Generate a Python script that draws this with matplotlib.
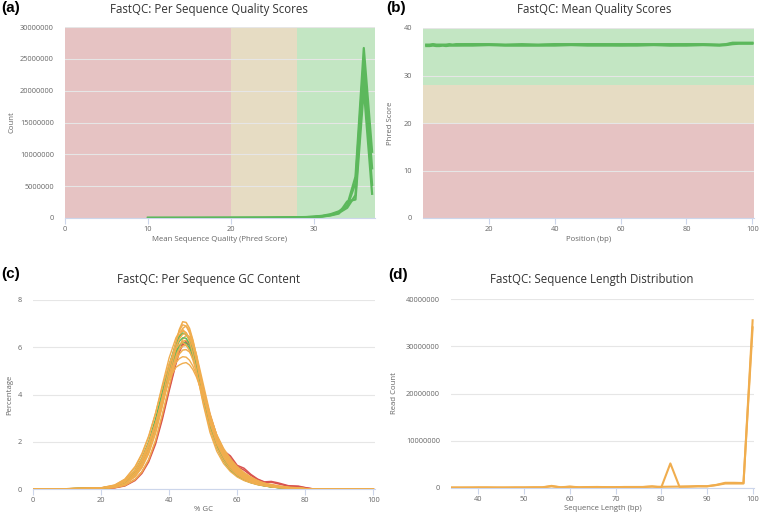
import numpy as np
import matplotlib
matplotlib.use("Agg")
import matplotlib.pyplot as plt

plt.rcParams['font.family'] = ['Open Sans', 'DejaVu Sans']

PASS = '#5cb85c'
WARN = '#f0ad4e'
FAIL = '#d9534f'

# (a) per sequence quality scores, counts in millions
qual_x = [10, 15, 20, 24, 27, 29, 30, 31, 32, 33, 34, 35, 36, 37]
qual_counts = [
    [0.01, 0.02, 0.03, 0.05, 0.09, 0.15, 0.22, 0.35, 0.60, 1.05, 2.0, 6.5, 26.7, 10.4],
    [0.01, 0.02, 0.03, 0.04, 0.08, 0.13, 0.19, 0.30, 0.50, 0.90, 1.8, 5.5, 24.8, 7.8],
    [0.01, 0.01, 0.02, 0.04, 0.07, 0.11, 0.16, 0.26, 0.45, 0.80, 1.6, 3.6, 22.5, 5.2],
    [0.01, 0.01, 0.02, 0.03, 0.06, 0.10, 0.14, 0.22, 0.40, 0.70, 2.6, 2.9, 20.3, 3.8],
]

# (b) mean quality per position
pos_x = [1, 2, 3, 4, 5, 6, 7, 8, 9, 10, 15, 20, 25, 30, 35, 40, 45, 50, 55, 60,
         65, 70, 75, 80, 85, 90, 92, 94, 96, 98, 100]
mean_q = [
    [36.4, 36.3, 36.5, 36.4, 36.3, 36.4, 36.3, 36.4, 36.4, 36.4, 36.5, 36.5, 36.4, 36.4, 36.4, 36.5,
     36.5, 36.5, 36.5, 36.4, 36.5, 36.5, 36.4, 36.5, 36.5, 36.4, 36.5, 36.8, 36.8, 36.8, 36.8],
    [36.2, 36.2, 36.3, 36.2, 36.2, 36.3, 36.2, 36.3, 36.3, 36.3, 36.3, 36.4, 36.3, 36.3, 36.3, 36.3,
     36.4, 36.3, 36.3, 36.3, 36.3, 36.4, 36.3, 36.3, 36.4, 36.3, 36.4, 36.6, 36.7, 36.7, 36.7],
    [36.5, 36.5, 36.6, 36.5, 36.5, 36.5, 36.5, 36.6, 36.5, 36.6, 36.6, 36.6, 36.5, 36.6, 36.5, 36.6,
     36.6, 36.6, 36.6, 36.6, 36.6, 36.6, 36.6, 36.6, 36.6, 36.5, 36.6, 36.9, 36.9, 36.9, 36.9],
]

# (c) per sequence GC content (%)
gc_x = [0, 10, 20, 24, 27, 30, 32, 34, 36, 38, 40, 42, 43, 44, 45, 46, 47, 48, 50, 52,
        54, 56, 58, 60, 62, 64, 66, 68, 70, 72, 75, 78, 80, 82, 90, 100]
# drawn below the green samples
gc_orange_under = [
    [0, 0.01, 0.03, 0.10, 0.25, 0.62, 1.05, 1.70, 2.60, 3.75, 5.00, 6.20, 6.75, 7.08, 7.05, 6.80, 6.30, 5.65,
     4.15, 2.85, 1.95, 1.35, 0.92, 0.64, 0.45, 0.32, 0.22, 0.15, 0.10, 0.07, 0.04, 0.02, 0.01, 0, 0, 0],
    [0, 0.01, 0.02, 0.08, 0.20, 0.52, 0.90, 1.50, 2.35, 3.50, 4.75, 5.90, 6.45, 6.80, 6.90, 6.70, 6.25, 5.65,
     4.25, 3.00, 2.08, 1.45, 1.00, 0.70, 0.50, 0.35, 0.25, 0.17, 0.12, 0.08, 0.05, 0.03, 0.01, 0, 0, 0],
    [0, 0.01, 0.04, 0.13, 0.32, 0.78, 1.25, 1.95, 2.90, 4.05, 5.20, 6.15, 6.50, 6.68, 6.62, 6.35, 5.90, 5.30,
     3.95, 2.75, 1.90, 1.32, 0.92, 0.65, 0.46, 0.33, 0.23, 0.16, 0.11, 0.07, 0.04, 0.02, 0.01, 0, 0, 0],
    [0, 0.00, 0.02, 0.06, 0.15, 0.40, 0.72, 1.25, 2.05, 3.15, 4.35, 5.50, 6.00, 6.35, 6.50, 6.45, 6.15, 5.70,
     4.45, 3.20, 2.25, 1.60, 1.12, 0.80, 0.58, 0.41, 0.29, 0.20, 0.14, 0.09, 0.05, 0.03, 0.01, 0, 0, 0],
    [0, 0.01, 0.03, 0.09, 0.23, 0.58, 1.00, 1.62, 2.50, 3.60, 4.75, 5.70, 6.05, 6.25, 6.30, 6.15, 5.85, 5.35,
     4.15, 3.00, 2.12, 1.50, 1.06, 0.75, 0.54, 0.39, 0.28, 0.19, 0.13, 0.09, 0.05, 0.03, 0.01, 0, 0, 0],
    [0, 0.01, 0.04, 0.12, 0.30, 0.70, 1.15, 1.80, 2.70, 3.75, 4.80, 5.60, 5.90, 6.05, 6.08, 5.95, 5.65, 5.25,
     4.20, 3.10, 2.25, 1.62, 1.16, 0.84, 0.60, 0.43, 0.31, 0.22, 0.15, 0.10, 0.06, 0.03, 0.01, 0, 0, 0],
    [0, 0.01, 0.03, 0.10, 0.26, 0.64, 1.08, 1.72, 2.60, 3.65, 4.65, 5.45, 5.72, 5.88, 5.90, 5.80, 5.55, 5.15,
     4.15, 3.10, 2.25, 1.64, 1.18, 0.86, 0.62, 0.45, 0.32, 0.22, 0.15, 0.10, 0.06, 0.03, 0.01, 0, 0, 0],
]
# drawn above the green samples
gc_orange_over = [
    [0, 0.01, 0.04, 0.13, 0.33, 0.76, 1.22, 1.88, 2.75, 3.75, 4.70, 5.35, 5.52, 5.60, 5.58, 5.45, 5.20, 4.85,
     3.95, 3.00, 2.22, 1.65, 1.22, 0.90, 0.66, 0.48, 0.34, 0.24, 0.16, 0.11, 0.06, 0.03, 0.01, 0, 0, 0],
    [0, 0.01, 0.04, 0.14, 0.35, 0.80, 1.28, 1.95, 2.80, 3.78, 4.65, 5.15, 5.25, 5.32, 5.35, 5.25, 5.05, 4.75,
     3.95, 3.05, 2.30, 1.72, 1.28, 0.95, 0.70, 0.51, 0.36, 0.25, 0.17, 0.11, 0.06, 0.03, 0.01, 0, 0, 0],
    [0, 0.01, 0.03, 0.08, 0.21, 0.55, 0.95, 1.58, 2.45, 3.60, 4.85, 5.95, 6.35, 6.55, 6.58, 6.40, 6.00, 5.45,
     4.10, 2.95, 2.10, 1.55, 1.15, 0.78, 0.58, 0.42, 0.30, 0.24, 0.20, 0.14, 0.08, 0.05, 0.02, 0, 0, 0],
    [0, 0.01, 0.03, 0.11, 0.28, 0.68, 1.12, 1.80, 2.72, 3.90, 5.10, 6.20, 6.70, 6.95, 6.90, 6.60, 6.10, 5.45,
     4.00, 2.78, 1.92, 1.34, 0.93, 0.65, 0.46, 0.33, 0.23, 0.16, 0.11, 0.07, 0.04, 0.02, 0.01, 0, 0, 0],
    [0, 0.01, 0.05, 0.16, 0.40, 0.92, 1.45, 2.20, 3.20, 4.40, 5.55, 6.40, 6.65, 6.75, 6.60, 6.25, 5.70, 5.05,
     3.60, 2.40, 1.60, 1.08, 0.74, 0.51, 0.36, 0.26, 0.18, 0.13, 0.09, 0.06, 0.03, 0.02, 0.01, 0, 0, 0],
    [0, 0.01, 0.05, 0.17, 0.42, 0.95, 1.50, 2.25, 3.20, 4.30, 5.30, 5.95, 6.12, 6.20, 6.10, 5.85, 5.45, 4.95,
     3.70, 2.55, 1.75, 1.20, 0.84, 0.59, 0.42, 0.30, 0.21, 0.15, 0.10, 0.07, 0.04, 0.02, 0.01, 0, 0, 0],
]
gc_green = [
    [0, 0.01, 0.04, 0.13, 0.33, 0.80, 1.30, 2.00, 2.95, 4.10, 5.25, 6.15, 6.45, 6.60, 6.55, 6.30, 5.85, 5.25,
     3.85, 2.60, 1.75, 1.18, 0.80, 0.55, 0.38, 0.27, 0.19, 0.13, 0.09, 0.06, 0.03, 0.02, 0.01, 0, 0, 0],
    [0, 0.01, 0.04, 0.12, 0.30, 0.74, 1.22, 1.90, 2.82, 3.95, 5.05, 5.95, 6.25, 6.40, 6.38, 6.15, 5.75, 5.20,
     3.85, 2.62, 1.78, 1.20, 0.82, 0.56, 0.39, 0.28, 0.20, 0.14, 0.09, 0.06, 0.03, 0.02, 0.01, 0, 0, 0],
    [0, 0.01, 0.03, 0.11, 0.28, 0.70, 1.16, 1.82, 2.72, 3.85, 4.95, 5.80, 6.08, 6.20, 6.18, 5.98, 5.62, 5.10,
     3.82, 2.62, 1.80, 1.22, 0.84, 0.58, 0.40, 0.29, 0.20, 0.14, 0.09, 0.06, 0.03, 0.02, 0.01, 0, 0, 0],
]
gc_red = [
    [0, 0.00, 0.02, 0.05, 0.13, 0.36, 0.66, 1.15, 1.90, 2.95, 4.15, 5.30, 5.80, 6.10, 6.20, 6.10, 5.80, 5.35,
     4.25, 3.15, 2.25, 1.62, 1.40, 1.00, 0.88, 0.62, 0.42, 0.30, 0.32, 0.26, 0.14, 0.12, 0.06, 0.01, 0, 0],
    [0, 0.00, 0.02, 0.06, 0.15, 0.40, 0.72, 1.22, 1.98, 3.05, 4.25, 5.35, 5.85, 6.15, 6.25, 6.12, 5.82, 5.35,
     4.20, 3.08, 2.20, 1.58, 1.30, 0.95, 0.80, 0.58, 0.40, 0.28, 0.29, 0.22, 0.12, 0.10, 0.05, 0.01, 0, 0],
]

# (d) sequence length distribution, read counts in millions
len_x = [34, 36, 38, 40, 42, 44, 46, 48, 50, 52, 54, 56, 58, 60, 62, 64, 66,
         68, 70, 72, 74, 76, 78, 80, 82, 84, 86, 88, 90, 92, 94, 96, 98, 100]
len_counts = [
    [0.10, 0.10, 0.10, 0.12, 0.12, 0.10, 0.10, 0.12, 0.12, 0.15, 0.15, 0.45, 0.15, 0.30, 0.15, 0.20, 0.22,
     0.18, 0.18, 0.22, 0.22, 0.22, 0.35, 0.10, 5.20, 0.25, 0.30, 0.35, 0.35, 0.60, 0.95, 0.95, 0.95, 35.5],
    [0.08, 0.08, 0.09, 0.10, 0.10, 0.09, 0.09, 0.10, 0.10, 0.12, 0.13, 0.35, 0.13, 0.25, 0.14, 0.18, 0.20,
     0.17, 0.17, 0.20, 0.20, 0.20, 0.30, 0.25, 0.28, 0.30, 0.32, 0.40, 0.38, 0.65, 1.10, 1.10, 1.05, 34.0],
]

fig = plt.figure(figsize=(7.6, 5.14), dpi=100)

def px_axes(left, top, right, bottom):
    W, H = 760.0, 514.0
    return fig.add_axes([left / W, 1 - bottom / H, (right - left) / W, (bottom - top) / H])

def style(ax):
    for s in ['top', 'right', 'left']:
        ax.spines[s].set_visible(False)
    ax.spines['bottom'].set_color('#ccd6eb')
    ax.spines['bottom'].set_linewidth(0.8)
    ax.tick_params(axis='y', length=0, labelsize=5.3, labelcolor='#666666', pad=8)
    ax.tick_params(axis='x', length=4, color='#ccd6eb', labelsize=5.3, labelcolor='#666666', pad=2)
    ax.grid(axis='y', color='#e6e6e6', linewidth=0.8)
    ax.set_axisbelow(True)

def big_labels(ax, ticks):
    ax.set_yticks(ticks)
    ax.set_yticklabels([str(int(t)) for t in ticks])

title_kw = dict(fontsize=8.3, color='#333333', ha='center', va='center')
lab_kw = dict(fontsize=5.6, color='#666666')
panel_kw = dict(fontsize=11, fontweight='bold', family='Liberation Sans', va='center')

# (a)
ax = px_axes(65, 27, 375, 218)
style(ax)
ax.axvspan(0, 20, color='#e6c3c3', zorder=0, lw=0)
ax.axvspan(20, 28, color='#e6dcc3', zorder=0, lw=0)
ax.axvspan(28, 40, color='#c3e6c3', zorder=0, lw=0)
for c in qual_counts:
    ax.plot(qual_x, np.array(c) * 1e6, color=PASS, lw=1.6, zorder=3)
ax.set_xlim(0, 37.35)
ax.set_ylim(0, 30e6)
ax.set_xticks([0, 10, 20, 30])
big_labels(ax, [0, 5e6, 10e6, 15e6, 20e6, 25e6, 30e6])
ax.set_xlabel('Mean Sequence Quality (Phred Score)', labelpad=2, **lab_kw)
ax.set_ylabel('Count', labelpad=3, **lab_kw)
fig.text(209 / 760, 1 - 9 / 514, 'FastQC: Per Sequence Quality Scores', **title_kw)
fig.text(0.001, 1 - 8 / 514, '(a)', **panel_kw)

# (b)
ax = px_axes(423, 28, 754, 218)
style(ax)
ax.axhspan(28, 40, color='#c3e6c3', zorder=0, lw=0)
ax.axhspan(20, 28, color='#e6dcc3', zorder=0, lw=0)
ax.axhspan(0, 20, color='#e6c3c3', zorder=0, lw=0)
for m in mean_q:
    ax.plot(pos_x, m, color=PASS, lw=1.6, zorder=3)
ax.set_xlim(0, 100.5)
ax.set_ylim(0, 40)
ax.set_xticks([20, 40, 60, 80, 100])
ax.set_yticks([0, 10, 20, 30, 40])
ax.set_xlabel('Position (bp)', labelpad=2, **lab_kw)
ax.set_ylabel('Phred Score', labelpad=7, **lab_kw)
fig.text(594 / 760, 1 - 9 / 514, 'FastQC: Mean Quality Scores', **title_kw)
fig.text(386 / 760, 1 - 8 / 514, '(b)', **panel_kw)

# (c)
ax = px_axes(33, 300, 375, 489)
style(ax)
for r in gc_red:
    ax.plot(gc_x, r, color=FAIL, lw=1.1, zorder=3)
for o in gc_orange_under:
    ax.plot(gc_x, o, color=WARN, lw=1.1, zorder=3)
for g in gc_green:
    ax.plot(gc_x, g, color=PASS, lw=1.0, zorder=3)
for o in gc_orange_over:
    ax.plot(gc_x, o, color=WARN, lw=1.0, zorder=3)
ax.set_xlim(0, 100.5)
ax.set_ylim(0, 8)
ax.set_xticks([0, 20, 40, 60, 80, 100])
ax.set_yticks([0, 2, 4, 6, 8])
ax.set_xlabel('% GC', labelpad=1, **lab_kw)
ax.set_ylabel('Percentage', labelpad=3, **lab_kw)
fig.text(209 / 760, 1 - 280 / 514, 'FastQC: Per Sequence GC Content', **title_kw)
fig.text(0.001, 1 - 274 / 514, '(c)', **panel_kw)

# (d)
ax = px_axes(451, 299, 754, 488)
style(ax)
for c in len_counts:
    ax.plot(len_x, np.array(c) * 1e6, color=WARN, lw=1.5, zorder=3)
ax.set_xlim(34, 100.3)
ax.set_ylim(0, 40e6)
ax.set_xticks([40, 50, 60, 70, 80, 90, 100])
big_labels(ax, [0, 10e6, 20e6, 30e6, 40e6])
ax.set_xlabel('Sequence Length (bp)', labelpad=1, **lab_kw)
ax.set_ylabel('Read Count', labelpad=6, **lab_kw)
fig.text(592 / 760, 1 - 279 / 514, 'FastQC: Sequence Length Distribution', **title_kw)
fig.text(388 / 760, 1 - 275 / 514, '(d)', **panel_kw)

fig.savefig('out.png', dpi=100)
